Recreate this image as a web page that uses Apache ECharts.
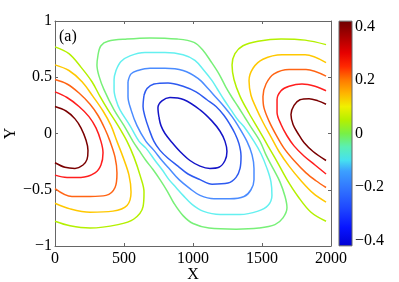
<!DOCTYPE html>
<html><head><meta charset="utf-8">
<script src="https://cdn.jsdelivr.net/npm/echarts@6/dist/echarts.min.js"></script>
<style>html,body{margin:0;padding:0;background:#fff}#c{width:399px;height:282px}</style>
</head><body><div id="c"></div>
<script>
// ---- tick labels ----
const xTicks = [0, 500, 1000, 1500, 2000];
const yTicks = [-1, -0.5, 0, 0.5, 1];
const cbTicks = [-0.4, -0.2, 0, 0.2, 0.4];
// colour bar (value -> colour stops)
const cbValues = [-0.42, -0.35, -0.28, -0.2, -0.14, -0.1, -0.05, 0, 0.05, 0.1, 0.15, 0.2, 0.25, 0.3, 0.35, 0.42];
const cbColors = ['#0000d2', '#0814ff', '#1e46ff', '#3278ff', '#3ca0ff', '#46e0f0', '#5af0b4', '#78f046', '#b4f000', '#f0f000', '#ffb400', '#ff7800', '#ff2800', '#e60000', '#b40000', '#6e0000'];

// ---- contour lines [x, y] ----
// left positive cell (open curves)
const leftDarkRed = [[0,0.24],[80,0.20],[145,0.13],[188,0.05],[225,-0.06],[239,-0.15],[232,-0.23],[203,-0.28],[145,-0.31],[72,-0.30],[0,-0.26]];
const leftRed = [[0,0.37],[87,0.32],[174,0.24],[246,0.15],[297,0.05],[333,-0.07],[348,-0.17],[333,-0.28],[290,-0.35],[188,-0.39],[87,-0.39],[0,-0.37]];
const leftOrange = [[0,0.48],[87,0.44],[174,0.36],[254,0.26],[312,0.16],[362,0.04],[399,-0.07],[435,-0.21],[449,-0.35],[435,-0.48],[370,-0.55],[254,-0.56],[123,-0.56],[0,-0.49]];
const leftYellow = [[0,0.61],[101,0.56],[196,0.46],[275,0.33],[348,0.20],[406,0.07],[449,-0.07],[493,-0.21],[536,-0.37],[551,-0.52],[522,-0.64],[420,-0.69],[254,-0.70],[109,-0.67],[0,-0.62]];
const leftYGreen = [[0,0.77],[101,0.71],[188,0.59],[268,0.46],[326,0.33],[384,0.21],[457,0.07],[522,-0.07],[572,-0.21],[616,-0.37],[645,-0.52],[638,-0.65],[572,-0.76],[457,-0.81],[254,-0.84],[109,-0.82],[0,-0.78]];
// right positive cell (open curves)
const rightDarkRed = [[1964,0.26],[1906,0.29],[1841,0.31],[1775,0.30],[1732,0.25],[1710,0.17],[1725,0.08],[1761,0.00],[1804,-0.08],[1870,-0.16],[1964,-0.24]];
const rightRed = [[1964,0.38],[1884,0.42],[1790,0.44],[1696,0.42],[1638,0.38],[1609,0.30],[1609,0.19],[1638,0.08],[1681,-0.02],[1732,-0.11],[1804,-0.20],[1884,-0.28],[1964,-0.36]];
const rightOrange = [[1964,0.51],[1819,0.57],[1696,0.57],[1587,0.53],[1529,0.44],[1507,0.33],[1514,0.23],[1551,0.11],[1601,-0.01],[1659,-0.13],[1732,-0.24],[1819,-0.35],[1891,-0.42],[1964,-0.48]];
const rightYellow = [[1964,0.63],[1812,0.70],[1645,0.70],[1507,0.66],[1435,0.58],[1406,0.47],[1420,0.34],[1456,0.23],[1507,0.10],[1565,-0.03],[1623,-0.16],[1696,-0.29],[1783,-0.42],[1870,-0.53],[1964,-0.61]];
const rightYGreen = [[1964,0.79],[1812,0.83],[1638,0.84],[1471,0.82],[1362,0.78],[1304,0.71],[1283,0.61],[1297,0.48],[1341,0.33],[1406,0.18],[1478,0.03],[1543,-0.11],[1609,-0.25],[1681,-0.41],[1761,-0.56],[1855,-0.70],[1964,-0.78]];
// central negative cell (closed curves)
const midGreen = [[312,0.70],[333,0.78],[384,0.82],[522,0.84],[688,0.85],[884,0.84],[1007,0.81],[1072,0.74],[1130,0.64],[1188,0.53],[1239,0.41],[1283,0.32],[1326,0.24],[1377,0.14],[1413,0.07],[1486,-0.07],[1529,-0.19],[1580,-0.31],[1630,-0.43],[1667,-0.56],[1681,-0.66],[1652,-0.75],[1594,-0.81],[1478,-0.84],[1312,-0.85],[1116,-0.84],[1000,-0.80],[928,-0.73],[862,-0.62],[812,-0.51],[761,-0.41],[710,-0.32],[659,-0.24],[609,-0.15],[565,-0.07],[500,0.07],[428,0.21],[355,0.39],[319,0.51],[304,0.61],[312,0.70]];
const midCyan = [[442,0.56],[478,0.64],[543,0.69],[652,0.72],[797,0.72],[928,0.70],[1014,0.65],[1080,0.56],[1138,0.47],[1174,0.40],[1225,0.30],[1275,0.21],[1326,0.12],[1370,0.06],[1442,-0.07],[1493,-0.18],[1536,-0.31],[1565,-0.43],[1572,-0.55],[1543,-0.64],[1471,-0.69],[1341,-0.72],[1196,-0.72],[1072,-0.69],[993,-0.63],[928,-0.55],[877,-0.48],[826,-0.41],[775,-0.32],[725,-0.24],[659,-0.13],[609,-0.07],[543,0.07],[471,0.21],[442,0.30],[428,0.39],[428,0.48],[442,0.56]];
const midLightBlue = [[529,0.46],[551,0.53],[601,0.56],[688,0.58],[797,0.58],[928,0.56],[1036,0.49],[1109,0.40],[1167,0.32],[1225,0.24],[1283,0.15],[1326,0.07],[1391,-0.07],[1428,-0.19],[1442,-0.31],[1442,-0.41],[1420,-0.50],[1370,-0.56],[1268,-0.58],[1152,-0.58],[1051,-0.55],[978,-0.49],[899,-0.41],[833,-0.32],[775,-0.24],[717,-0.15],[659,-0.07],[594,0.07],[551,0.21],[529,0.33],[529,0.46]];
const midBlue = [[645,0.34],[667,0.40],[717,0.44],[819,0.45],[928,0.42],[1022,0.37],[1101,0.30],[1167,0.24],[1225,0.16],[1268,0.08],[1304,0.00],[1333,-0.09],[1348,-0.20],[1341,-0.31],[1312,-0.39],[1254,-0.44],[1138,-0.45],[1051,-0.41],[964,-0.36],[891,-0.29],[819,-0.22],[761,-0.15],[717,-0.07],[681,0.04],[652,0.15],[638,0.24],[645,0.34]];
const midDarkBlue = [[754,0.14],[746,0.23],[775,0.29],[833,0.32],[935,0.30],[1051,0.21],[1138,0.11],[1196,0.02],[1232,-0.07],[1246,-0.16],[1232,-0.24],[1188,-0.30],[1123,-0.31],[1051,-0.29],[978,-0.24],[906,-0.16],[848,-0.08],[797,0.00],[768,0.07],[754,0.14]];

const contours = [
  [leftDarkRed, '#7a0000'], [leftRed, '#ff1e1e'], [leftOrange, '#ff6414'], [leftYellow, '#ffc800'], [leftYGreen, '#b4f000'],
  [rightDarkRed, '#7a0000'], [rightRed, '#ff1e1e'], [rightOrange, '#ff6414'], [rightYellow, '#ffc800'], [rightYGreen, '#b4f000'],
  [midGreen, '#78f078'], [midCyan, '#64f0f0'], [midLightBlue, '#4b8cff'], [midBlue, '#2d5af0'], [midDarkBlue, '#1414c8']
];

const FONT = 'Liberation Serif';
const fmt = v => String(v).replace('-', '\u2212');
const axisCol = '#666';
const chart = echarts.init(document.getElementById('c'), null, {renderer: 'canvas'});

const series = contours.map(([d, c]) => ({
  type: 'line', xAxisIndex: 0, yAxisIndex: 0, data: d, showSymbol: false, smooth: 0.35,
  lineStyle: {color: c, width: 1.5}, silent: true
}));
series.push({
  type: 'custom', xAxisIndex: 2, yAxisIndex: 2, silent: true, clip: false,
  data: [[0, cbValues[0], cbValues[cbValues.length - 1]]],
  renderItem: function (params, api) {
    const lo = api.value(1), hi = api.value(2);
    const p0 = api.coord([0, hi]);
    const p1 = api.coord([1, lo]);
    const span = hi - lo;
    const stops = cbValues.map((v, i) => ({offset: (v - lo) / span, color: cbColors[i]}));
    return {
      type: 'rect',
      shape: {x: p0[0], y: p0[1], width: p1[0] - p0[0], height: p1[1] - p0[1]},
      style: {fill: new echarts.graphic.LinearGradient(0, 1, 0, 0, stops), stroke: axisCol, lineWidth: 1}
    };
  }
});

chart.setOption({
  animation: false,
  backgroundColor: '#fff',
  title: {text: '(a)', left: 59, top: 29, padding: 0,
    textStyle: {fontFamily: FONT, fontSize: 16, fontWeight: 'normal', color: '#000'}},
  grid: [
    {left: 55, top: 21, width: 276, height: 225, outerBoundsMode: 'none', containLabel: false},
    {left: 339, top: 26.5, width: 13, height: 214, outerBoundsMode: 'none', containLabel: false}
  ],
  xAxis: [
    {gridIndex: 0, type: 'value', min: 0, max: 2000, interval: 500, position: 'bottom',
      name: 'X', nameLocation: 'middle', nameGap: 21, nameMoveOverlap: false,
      nameTextStyle: {fontFamily: FONT, fontSize: 16, color: '#000'},
      axisLine: {show: true, onZero: false, lineStyle: {color: axisCol}},
      axisTick: {show: true, inside: true, length: 3, lineStyle: {color: axisCol}},
      axisLabel: {fontFamily: FONT, fontSize: 16, color: '#000', margin: 5, formatter: fmt},
      splitLine: {show: false}},
    {gridIndex: 0, type: 'value', min: 0, max: 2000, interval: 500, position: 'top',
      axisLine: {show: true, onZero: false, lineStyle: {color: axisCol}},
      axisTick: {show: true, inside: true, length: 3, lineStyle: {color: axisCol}},
      axisLabel: {show: false}, splitLine: {show: false}},
    {gridIndex: 1, type: 'value', min: 0, max: 1, show: false}
  ],
  yAxis: [
    {gridIndex: 0, type: 'value', min: -1, max: 1, interval: 0.5, position: 'left',
      name: 'Y', nameLocation: 'middle', nameGap: 36, nameMoveOverlap: false,
      nameTextStyle: {fontFamily: FONT, fontSize: 16, color: '#000'},
      axisLine: {show: true, onZero: false, lineStyle: {color: axisCol}},
      axisTick: {show: true, inside: true, length: 3, lineStyle: {color: axisCol}},
      axisLabel: {fontFamily: FONT, fontSize: 16, color: '#000', margin: 3, formatter: fmt},
      splitLine: {show: false}},
    {gridIndex: 0, type: 'value', min: -1, max: 1, interval: 0.5, position: 'right',
      axisLine: {show: true, onZero: false, lineStyle: {color: axisCol}},
      axisTick: {show: true, inside: true, length: 3, lineStyle: {color: axisCol}},
      axisLabel: {show: false}, splitLine: {show: false}},
    {gridIndex: 1, type: 'value', min: cbTicks[0], max: cbTicks[cbTicks.length - 1], interval: 0.2, position: 'right',
      axisLine: {show: false}, axisTick: {show: false}, splitLine: {show: false},
      axisLabel: {fontFamily: FONT, fontSize: 16, color: '#000', margin: 3,
        formatter: v => fmt(Math.round(v * 10) / 10)}}
  ],
  series: series
});
</script></body></html>
